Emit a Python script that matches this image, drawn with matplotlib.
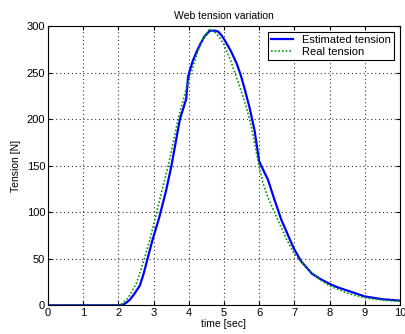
import matplotlib
matplotlib.use("Agg")
import matplotlib.pyplot as plt

plt.rcParams['font.family'] = ['Liberation Sans', 'DejaVu Sans']

# Estimated tension (blue, solid)
t_est = [0, 1, 2.0, 2.09, 2.2, 2.33, 2.45, 2.61, 2.72, 2.83, 2.97, 3.16, 3.35, 3.51,
         3.63, 3.75, 3.85, 3.93, 3.98, 4.02, 4.12, 4.22, 4.32, 4.45, 4.6, 4.75, 4.84,
         4.93, 5.02, 5.2, 5.36, 5.48, 5.6, 5.73, 5.87, 6.0, 6.07, 6.25, 6.44, 6.63,
         6.87, 7.0, 7.2, 7.5, 7.75, 8.0, 8.25, 8.57, 9.0, 9.5, 10]
v_est = [0, 0, 0, 0, 2, 6, 12, 21, 34, 50, 70, 94, 122, 150,
         175, 200, 212, 222, 245, 251, 263, 272, 280, 289, 295, 295, 294,
         290, 285, 273, 260, 247, 231, 212, 188, 155, 149, 135, 113, 92,
         71, 60, 47, 34, 28, 23, 19, 15, 9.5, 6.5, 5]

# Real tension (green, dotted)
t_real = [0, 1, 2.0, 2.12, 2.28, 2.52, 2.74, 2.9, 3.09, 3.25, 3.42, 3.56, 3.7, 3.84,
          3.98, 4.12, 4.25, 4.4, 4.58, 4.7, 4.85, 5.0, 5.2, 5.45, 5.62, 5.78, 5.98,
          6.11, 6.25, 6.4, 6.6, 6.78, 7.0, 7.25, 7.5, 7.75, 8.0, 8.5, 9.0, 9.5, 10]
v_real = [0, 0, 0, 2, 8, 24, 50, 71, 100, 125, 150, 175, 200, 220,
          240, 256, 272, 286, 296, 295, 289, 280, 262, 235, 215, 192, 153,
          131, 116, 103, 86, 71, 55, 44, 35, 27, 21, 13, 8, 5.5, 4.3]

x_ticks = list(range(0, 11))
y_ticks = [0, 50, 100, 150, 200, 250, 300]

fig = plt.figure(figsize=(4.06, 3.34), dpi=100)
ax = fig.add_axes([0.118, 0.086, 0.867, 0.836])

ax.plot(t_est, v_est, color="#0000ff", lw=1.6, label="Estimated tension")
ax.plot(t_real, v_real, color="#009900", lw=1.2, ls=(0, (1, 1.2)), label="Real tension")

ax.set_xlim(0, 10)
ax.set_ylim(0, 300)
ax.set_xticks(x_ticks)
ax.set_yticks(y_ticks)
ax.tick_params(direction="in", top=True, right=True, labelsize=8, length=3, pad=2)
ax.grid(True, color="black", ls=(0, (1, 2.5)), lw=0.8, alpha=0.8)
for s in ax.spines.values():
    s.set_linewidth(0.8)

ax.set_title("Web tension variation", fontsize=7.5, pad=5)
ax.set_xlabel("time [sec]", fontsize=7.5, labelpad=1)
ax.set_ylabel("Tension [N]", fontsize=7.5, labelpad=4)

leg = ax.legend(loc="upper right", fontsize=8, frameon=True, fancybox=False,
                edgecolor="black", framealpha=1, borderpad=0.3, labelspacing=0.2,
                handlelength=2.0, borderaxespad=0.5)
leg.get_frame().set_linewidth(0.8)

fig.savefig("out.png", dpi=100)
